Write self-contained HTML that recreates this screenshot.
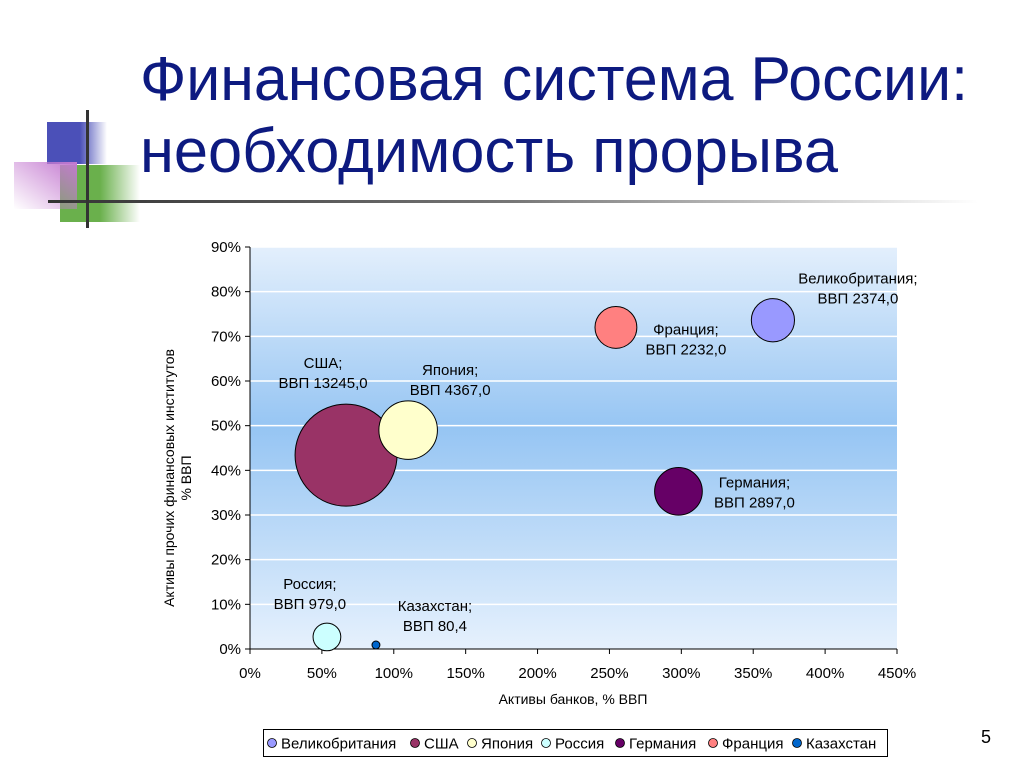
<!DOCTYPE html>
<html><head><meta charset="utf-8">
<style>
body{margin:0;width:1024px;height:768px;background:#fff;overflow:hidden;font-family:"Liberation Sans",sans-serif;}
svg{display:block}
</style></head>
<body>
<svg width="1024" height="768" xmlns="http://www.w3.org/2000/svg" id="root">
<defs>
<linearGradient id="gBlue" x1="0" x2="1" y1="0" y2="0"><stop offset="0" stop-color="#4b50b8"/><stop offset="0.55" stop-color="#4b50b8"/><stop offset="1" stop-color="#4b50b8" stop-opacity="0"/></linearGradient>
<linearGradient id="gPink" x1="1" x2="0" y1="0" y2="1"><stop offset="0" stop-color="#c47ad0"/><stop offset="1" stop-color="#c47ad0" stop-opacity="0"/></linearGradient>
<linearGradient id="gGreen" x1="0" x2="1" y1="0" y2="0"><stop offset="0" stop-color="#6ab04c"/><stop offset="0.5" stop-color="#6ab04c"/><stop offset="1" stop-color="#6ab04c" stop-opacity="0"/></linearGradient>
<linearGradient id="gLine" x1="0" x2="1" y1="0" y2="0"><stop offset="0" stop-color="#333"/><stop offset="0.5" stop-color="#777"/><stop offset="1" stop-color="#fff"/></linearGradient>
<linearGradient id="gPlot" x1="0" x2="0" y1="0" y2="1"><stop offset="0" stop-color="#e3effc"/><stop offset="0.45" stop-color="#96c5f3"/><stop offset="1" stop-color="#e6f1fd"/></linearGradient>
</defs>
<g>
<rect x="47" y="122" width="60" height="42" fill="url(#gBlue)"/>
<rect x="60" y="165" width="80" height="57" fill="url(#gGreen)"/>
<rect x="14" y="162" width="63" height="47" fill="url(#gPink)"/>
<rect x="48" y="200" width="930" height="3" fill="url(#gLine)"/>
<rect x="86" y="110" width="3" height="118" fill="#333"/>
</g>
<text x="140" y="100" font-size="62" fill="#0d1a80" textLength="828" lengthAdjust="spacingAndGlyphs">Финансовая система России:</text>
<text x="140" y="172" font-size="62" fill="#0d1a80" textLength="698" lengthAdjust="spacingAndGlyphs">необходимость прорыва</text>
<g id="chart"></g>
<g>
<rect x="263.5" y="729.5" width="624" height="27" fill="#fff" stroke="#000"/>
<g id="legend"></g>
</g>
<text x="981" y="743" font-size="18" fill="#000">5</text>
</svg>
<script>
const countries=["Великобритания","США","Япония","Россия","Германия","Франция","Казахстан"];
const banks=[363.7,66.8,110,53.5,298,254.5,87.6];
const others=[73.6,43.4,49,2.7,35.3,72,0.9];
const gdp=[2374.0,13245.0,4367.0,979.0,2897.0,2232.0,80.4];
const gdpLabels=["2374,0","13245,0","4367,0","979,0","2897,0","2232,0","80,4"];
const xTicks=[0,50,100,150,200,250,300,350,400,450];
const yTicks=[0,10,20,30,40,50,60,70,80,90];
const colors=["#9999ff","#993366","#ffffcc","#ccffff","#660066","#ff8080","#0066cc"];
const NS="http://www.w3.org/2000/svg";
const L=250,R=897,T=247,B=649;
const xs=v=>L+(v/450)*(R-L);
const ys=v=>B-(v/90)*(B-T);
const rs=g=>Math.sqrt(g)*0.443;
const ch=document.getElementById('chart');
function mk(tag,attrs,parent){const e=document.createElementNS(NS,tag);for(const k in attrs)e.setAttribute(k,attrs[k]);(parent||ch).appendChild(e);return e;}
const bg=mk('rect',{x:L,y:T,width:R-L,height:B-T,fill:'url(#gPlot)'});


yTicks.forEach(t=>{
 if(t>0){const g=mk('line',{x1:L,x2:R,y1:ys(t),y2:ys(t),stroke:'#fff','stroke-width':1.5});
 
 }
 const tk=mk('line',{x1:L-5,x2:L,y1:ys(t),y2:ys(t),stroke:'#000'});
 
 
 const tx=mk('text',{x:L-9,y:ys(t)+5,'font-size':15,'text-anchor':'end',fill:'#000'});
 tx.textContent=t+'%';
 
 
});
xTicks.forEach(t=>{
 const tk=mk('line',{x1:xs(t),x2:xs(t),y1:B,y2:B+5,stroke:'#000'});
 
 
 const tx=mk('text',{x:xs(t),y:B+29,'font-size':15,'text-anchor':'middle',fill:'#000'});
 tx.textContent=t+'%';
 
 
});
const ya=mk('line',{x1:L,x2:L,y1:T,y2:B,stroke:'#000'});


const xa=mk('line',{x1:L,x2:R,y1:B,y2:B,stroke:'#000'});


const xt=mk('text',{x:573,y:704,'font-size':14,'text-anchor':'middle'});
xt.textContent='Активы банков, % ВВП';


const yt=mk('text',{transform:'translate(174,478) rotate(-90)','font-size':14,'text-anchor':'middle'});


const t1=mk('tspan',{x:0,dy:0},yt);t1.textContent='Активы прочих финансовых институтов';
const t2=mk('tspan',{x:0,dy:17},yt);t2.textContent='% ВВП';
const lblDx=[85,-23,42,-17,76,70,59];
const lblDy=[-37,-87,-55,-48,-4,7,-34];
countries.forEach((c,i)=>{
 const cx=xs(banks[i]),cy=ys(others[i]);
 const b=mk('circle',{cx:cx,cy:cy,r:rs(gdp[i]),fill:colors[i],stroke:'#000','stroke-width':1});
 
 
 const t=mk('text',{'font-size':15,'text-anchor':'middle'});
 
 
 const a=mk('tspan',{x:cx+lblDx[i],y:cy+lblDy[i]},t);a.textContent=c+';';
 const d=mk('tspan',{x:cx+lblDx[i],y:cy+lblDy[i]+20},t);d.textContent='ВВП '+gdpLabels[i];
});
const lg=document.getElementById('legend');
const lgX=[272,415,472,546,620,713,797];
countries.forEach((c,i)=>{
 const m=mk('circle',{cx:lgX[i],cy:743,r:4.5,fill:colors[i],stroke:'#000','stroke-width':0.8},lg);
 
 
 const t=mk('text',{x:lgX[i]+9,y:748.5,'font-size':15},lg);
 t.textContent=c;
 
 
});
</script>
</body></html>
